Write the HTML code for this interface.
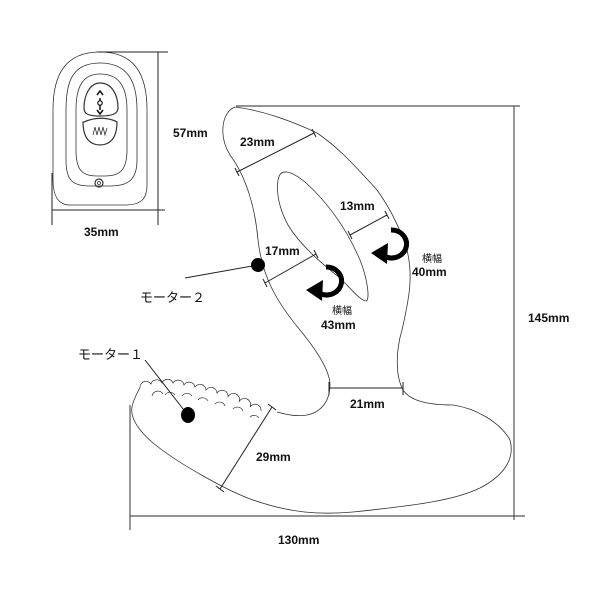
<!DOCTYPE html>
<html><head><meta charset="utf-8"><style>
html,body{margin:0;padding:0;background:#fff}
svg text{font-family:"Liberation Sans","Noto Sans CJK JP",sans-serif;fill:#111}
</style></head><body>
<svg width="600" height="600" viewBox="0 0 600 600" xmlns="http://www.w3.org/2000/svg">
<g fill="none" stroke="#333" stroke-width="0.8">
<!-- remote -->
<path d="M100,52 C135,52 147,75 147,110 L147,185 C147,200 140,205 125,205 L70,205 C58,205 53,195 53,180 L53,110 C53,75 65,52 100,52 Z"/>
<path d="M100,63 C128,63 137,82 137,110 L137,160 C137,180 128,186 110,186 L90,186 C72,186 66,180 66,160 L66,110 C66,82 72,63 100,63 Z"/>
<path d="M100,74 C120,74 127,88 127,110 L127,150 C127,170 120,176 105,176 L97,176 C82,176 76,170 76,150 L76,110 C76,88 82,74 100,74 Z"/>
<path d="M100,83 C112,83 118,95 118,108 C118,114 112,116 100,116 C88,116 84,114 84,108 C84,95 90,83 100,83 Z" stroke-width="1.2"/>
<path d="M84,122 C95,117 108,117 117,122 C117,138 110,145 100,145 C90,145 83,138 83,122 Z" stroke-width="1.2"/>
<path d="M93,135 L95,127 L97,135 L99,127 L101,135 L103,127 L105,135 L107,128" stroke-width="0.8"/>
<circle cx="99" cy="183" r="4" stroke-width="1.2"/><circle cx="99" cy="183" r="1.5"/>
<path d="M100,98 L100,110 M97,95 L100,91 L103,95 M97,110 L100,114 L103,110" stroke="#111" stroke-width="1.5"/>
<circle cx="100" cy="103" r="2.2" fill="#fff" stroke="#111" stroke-width="1.2"/>
<path d="M97,52 L168,52 M158,52 L158,225 M52,210 L165,210 M52,173 L52,225" stroke="#222" stroke-width="1"/>
<path d="M236,106 L520,106 M514,106 L514,520 M130,516 L525,516 M130,405 L130,530" stroke="#555" stroke-width="1.2"/>
<path d="M235,107 C222,112 218,135 230,155 C245,175 255,205 258,240 C262,275 275,300 300,330 C318,352 330,372 330,385 C330,400 322,412 307,415 C295,417 285,414 277,412"/>
<path d="M235,107 C260,110 290,120 317,133 C335,145 350,160 377,190 C390,208 400,228 407,250 C413,275 410,295 402,330 C396,350 395,375 403,390 C410,400 425,405 453,405 C475,408 500,422 510,440 C515,458 505,475 480,488 C455,500 420,505 353,512 C320,515 290,513 253,500 C230,492 180,465 153,443 C138,430 130,418 132,407 C133,400 138,392 140,387"/>
<path d="M278,180 C280,168 290,170 305,182 C325,200 345,225 360,260 C368,280 370,300 366,301 C360,300 352,290 340,278 C320,262 300,245 288,225 C280,210 276,195 278,180 Z"/>
<g stroke-width="0.7">
<path d="M140,387 a6,6 0 0 1 11,-3 a6,6 0 0 1 11,-1 a6,6 0 0 1 11,0 a6,6 0 0 1 11,2 a6,6 0 0 1 11,2 a6,6 0 0 1 11,3 a6,6 0 0 1 11,3 a6,6 0 0 1 11,4 a6,6 0 0 1 11,5 a6,6 0 0 1 11,5 a6,6 0 0 1 11,4"/>
<path d="M152,396 a6,6 0 0 1 11,-2 M165,395 a6,6 0 0 1 10,0 M182,396 a6,6 0 0 1 10,0 M198,400 a6,6 0 0 1 10,1 M215,404 a6,6 0 0 1 10,2 M233,409 a6,6 0 0 1 10,2 M250,417 a6,6 0 0 1 9,1"/>
</g>
</g>
<g stroke="#222" stroke-width="1">
<path d="M237,172 L314,133 M235,168 L239,176 M312,129 L316,137"/>
<path d="M350,235 L387,215 M348,231 L352,239 M385,211 L389,219"/>
<path d="M265,283 L316,254 M263,279 L267,287 M314,250 L318,258"/>
<path d="M329,388 L403,388 M329,382 L329,395 M403,382 L403,395"/>
<path d="M220,489 L272,407 M216,486 L224,492 M268,404 L276,410"/>
<path d="M185,278 L258,265 M145,360 L187,414"/>
</g>
<circle cx="258" cy="265" r="7" fill="#000"/>
<ellipse cx="188" cy="415" rx="7" ry="8" fill="#000"/>
<g fill="none" stroke="#000" stroke-width="5">
<path d="M391,230 A15,14 0 1 1 386,257"/>
<path d="M326,267 A15,14 0 1 1 321,294"/>
</g>
<polygon points="371,253 388,243 387,264" fill="#000"/>
<polygon points="306,290 323,280 322,301" fill="#000"/>
<g font-size="12" font-weight="bold">
<text x="173" y="137">57mm</text>
<text x="84" y="236">35mm</text>
<text x="240" y="146">23mm</text>
<text x="340" y="210">13mm</text>
<text x="265" y="255">17mm</text>
<text x="412" y="276">40mm</text>
<text x="321" y="329">43mm</text>
<text x="350" y="408">21mm</text>
<text x="256" y="461">29mm</text>
<text x="278" y="544">130mm</text>
<text x="528" y="322">145mm</text>
</g>
<g font-size="13">
<text x="140" y="302">モーター２</text>
<text x="78" y="359">モーター１</text>
</g>
<g font-size="10">
<text x="422" y="262">横幅</text>
<text x="332" y="314">横幅</text>
</g>
</svg>
</body></html>
